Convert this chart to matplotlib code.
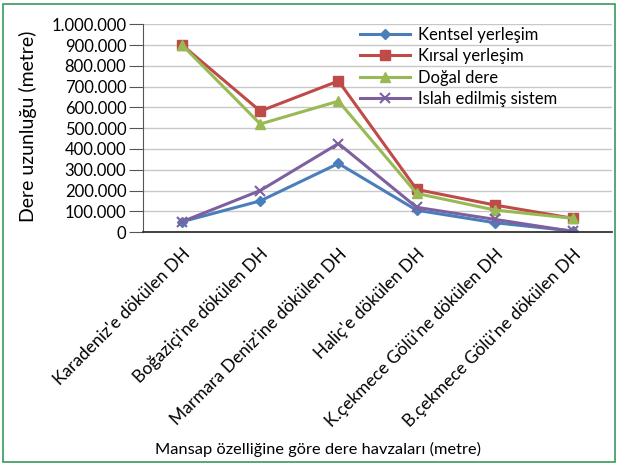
import numpy as np
import matplotlib.pyplot as plt
import matplotlib.patches as patches
from matplotlib.ticker import FuncFormatter

plt.rcParams['font.family'] = ['Lato', 'DejaVu Sans']

kategoriler = ["Karadeniz'e dökülen DH", "Boğaziçi'ne dökülen DH",
               "Marmara Deniz'ine dökülen DH", "Haliç'e dökülen DH",
               "K.çekmece Gölü'ne dökülen DH", "B.çekmece Gölü'ne dökülen DH"]
kentsel = [50000, 150000, 330000, 105000, 45000, 5000]
kirsal = [900000, 582000, 727000, 205000, 130000, 66000]
dogal = [900000, 520000, 630000, 186000, 106000, 66000]
islah = [50000, 200000, 426000, 119000, 61000, 3000]

fig = plt.figure(figsize=(6.19, 4.66), dpi=100)
ax = fig.add_axes([0.231, 0.502, 0.758, 0.446])

x = np.arange(len(kategoriler))
ax.plot(x, kentsel, color='#4a7ebb', lw=2.2, marker='D', ms=5, label='Kentsel yerleşim')
ax.plot(x, kirsal, color='#be4b48', lw=2.2, marker='s', ms=7, label='Kırsal yerleşim')
ax.plot(x, dogal, color='#98b954', lw=2.2, marker='^', ms=7, label='Doğal dere')
ax.plot(x, islah, color='#7d60a0', lw=2.2, marker='x', ms=7, mew=1.5, label='Islah edilmiş sistem')

ax.set_xlim(-0.5, 5.5)
ax.set_ylim(0, 1000000)
ax.set_yticks(np.arange(0, 1000001, 100000))
ax.yaxis.set_major_formatter(FuncFormatter(lambda v, p: f'{int(v):,}'.replace(',', '.')))
ax.set_xticks(x)
ax.set_xticklabels(kategoriler, rotation=45, ha='right', rotation_mode='anchor', fontsize=12.5)
ax.tick_params(axis='y', labelsize=12, length=10, color='#555555', pad=2)
ax.tick_params(axis='x', length=0, pad=10)
ax.grid(axis='y', color='#c8c8c8', lw=1)
ax.set_axisbelow(True)
for s in ['top', 'right']:
    ax.spines[s].set_visible(False)
ax.spines['left'].set_color('#555555')
ax.spines['bottom'].set_color('#333333')
ax.spines['bottom'].set_linewidth(1.3)

ax.set_ylabel('Dere uzunluğu (metre)', fontsize=14)
ax.yaxis.set_label_coords(-0.226, 0.51)
fig.text(0.514, 0.036, 'Mansap özelliğine göre dere havzaları (metre)', fontsize=11.8,
         ha='center', va='center')

ax.legend(loc='upper right', bbox_to_anchor=(0.904, 1.035), frameon=False, fontsize=12,
          handlelength=3, labelspacing=0.32, borderaxespad=0.2, handletextpad=0.5)

fig.patches.append(patches.Rectangle((0.005, 0.008), 0.988, 0.984, transform=fig.transFigure,
                                     fill=False, edgecolor='#3a9a5a', lw=1.2))

fig.savefig('out.png', dpi=100)
